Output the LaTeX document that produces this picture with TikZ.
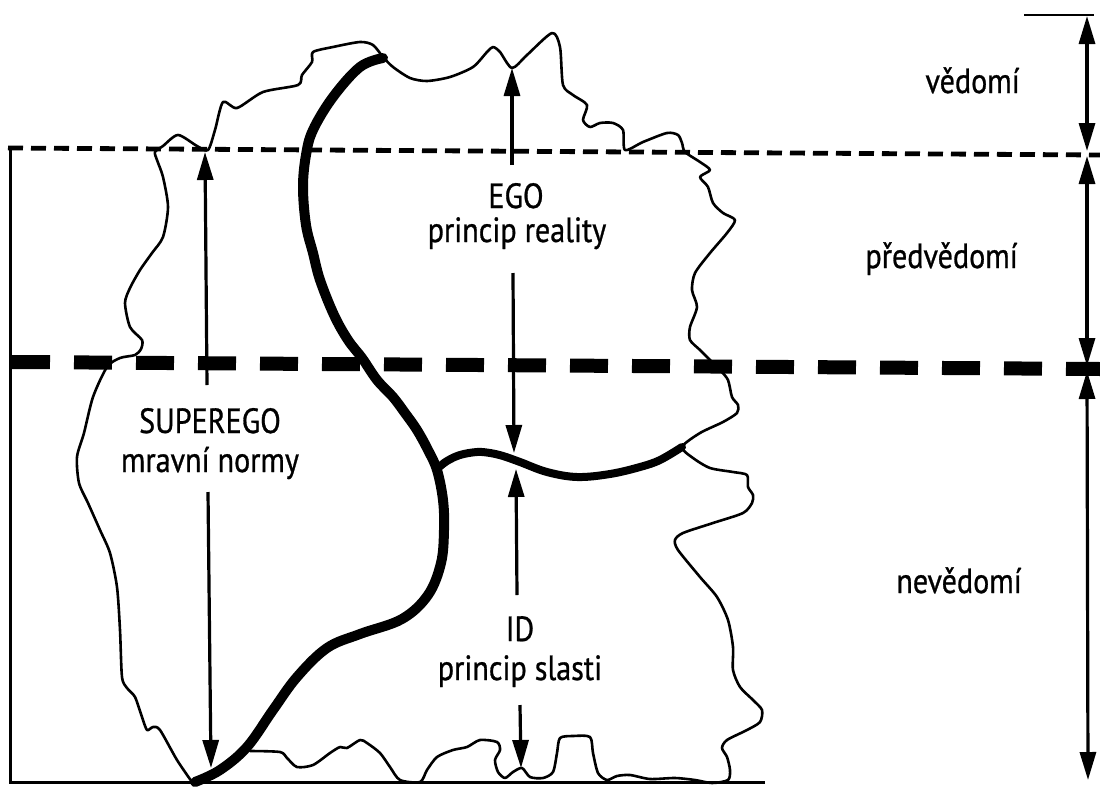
\documentclass[tikz,border=0pt]{standalone}
\usepackage{fontspec}
\setmainfont[FakeStretch=0.86,FakeBold=0.8]{PT Sans}
\usetikzlibrary{arrows.meta}
\begin{document}
\begin{tikzpicture}[x=1pt,y=-1pt,
  lbl/.style={font=\fontsize{35}{38}\selectfont, anchor=base, inner sep=0pt},
  rlbl/.style={lbl, anchor=base east},
  tip/.tip={Triangle[length=28pt,width=16pt]},
  arr/.style={line width=3.2pt, -tip},
  darr/.style={line width=3.2pt, tip-tip},
  contour/.style={line width=2.6pt, line join=round, line cap=round},
  divider/.style={line width=10pt, line cap=round},
  thinlevel/.style={line width=4.8pt, dash pattern=on 15pt off 8pt},
  thicklevel/.style={line width=14pt, dash pattern=on 38pt off 24pt},
  frame/.style={line width=3pt}
]
\useasboundingbox (0,0) rectangle (1100,787);

% level lines
\draw[thinlevel] (8,148) -- (1100,155);
\draw[thicklevel] (12,362) -- (1100,369);
\draw[frame] (10,147) -- (10,782) -- (765,782);

% outline of the psyche
\draw[contour] plot[smooth, tension=0.45] coordinates {
(192,782) (177,760) (160,730) (153,727) (147,730) (142,717) (135,697) (127,688)
(122,677) (120,630) (117,587) (110,553) (100,530) (88,503) (79,483) (77,457)
(84,433) (93,397) (107,367) (120,358) (135,355) (141,349) (142,340) (130,327)
(125,303) (130,288) (140,270) (152,253) (163,237) (168,207) (163,177) (157,160)
(155,152) (163,146) (178,135) (197,146) (208,150) (215,130) (223,102) (237,108)
(263,92) (298,85) (302,75) (312,62) (313,52) (333,47) (360,42) (373,45) (383,57)
(393,67) (410,78) (427,81) (450,77) (473,67) (487,52) (493,47) (500,52) (512,68)
(527,55) (552,33) (560,47) (563,85) (573,95) (587,105) (583,120) (590,127)
(600,123) (613,123) (623,130) (625,150) (643,142) (667,133) (678,135) (682,143)
(685,152) (700,162) (710,170) (700,177) (708,187) (713,203) (723,213) (735,220)
(727,233) (710,253) (695,273) (692,290) (697,307) (690,327) (690,340) (700,350)
(710,360) (720,370) (728,380) (732,397) (738,405) (737,413) (723,422) (700,433)
(682,447) (693,458) (710,468) (733,472) (747,475) (748,487) (753,495) (752,503)
(743,513) (713,523) (683,533) (675,540) (678,550) (700,577) (717,597) (728,620)
(733,647) (733,670) (740,687) (753,700) (762,710) (760,722) (747,730) (727,740)
(722,748) (727,757) (730,770) (728,780) (712,783) (695,780) (675,778) (650,779)
(630,775) (617,776) (607,780) (598,773) (593,753) (590,737) (573,736) (560,738)
(557,753) (553,772) (543,778) (530,777) (522,768) (513,772) (505,778) (498,772)
(495,760) (500,750) (497,742) (480,740) (467,747) (453,750) (437,757) (427,770)
(420,782) (400,780) (390,767) (380,753) (367,743) (360,740) (347,748) (340,747)
(330,753) (313,765) (297,767) (287,758) (280,752) (250,751)};

% superego / ego-id divider
\draw[divider] plot[smooth, tension=0.6] coordinates {
(383,58) (360,67) (333,97) (313,130) (306,155) (303,187) (306,225) (313,253)
(320,280) (334,315) (348,340) (362,358) (377,380) (393,397) (405,413) (417,430)
(428,450) (437,470) (443,500) (444,530) (441,563) (428,595) (402,619) (360,634)
(327,648) (297,677) (273,710) (247,747) (220,770) (195,782)};

% ego / id divider
\draw[line width=8pt, line cap=round] plot[smooth, tension=0.6] coordinates {
(438,468) (447,461) (460,455) (477,452) (490,453) (503,456) (520,462) (547,472)
(577,477) (610,474) (640,467) (660,460) (682,447)};

% labels
\node[lbl] (ego) at (516,208) {EGO};
\node[lbl] (egotext) at (517,242) {princip reality};
\node[lbl] (superego) at (210,433) {SUPEREGO};
\node[lbl] (superegotext) at (210,472) {mravní normy};
\node[lbl] (id) at (520,641) {ID};
\node[lbl] (idtext) at (520,680) {princip slasti};
\node[rlbl] (ved) at (1020,93) {vědomí};
\node[rlbl] (preved) at (1018,268) {předvědomí};
\node[rlbl] (neved) at (1022,593) {nevědomí};

% arrow end points
\coordinate (egoA) at (512,165);
\coordinate (egoAtip) at (512,68);
\coordinate (egoB) at (513,273);
\coordinate (egoBtip) at (514,453);
\coordinate (idA) at (517,595);
\coordinate (idAtip) at (516,469);
\coordinate (idB) at (520,705);
\coordinate (idBtip) at (521,768);
\coordinate (seA) at (207,385);
\coordinate (seAtip) at (205,152);
\coordinate (seB) at (208,492);
\coordinate (seBtip) at (211,768);

\draw[arr] (egoA) -- (egoAtip);
\draw[arr] (egoB) -- (egoBtip);
\draw[arr] (idA) -- (idAtip);
\draw[arr] (idB) -- (idBtip);
\draw[arr] (seA) -- (seAtip);
\draw[arr] (seB) -- (seBtip);

% right scale
\coordinate (tickL) at (1024,15);
\coordinate (tickR) at (1094,15);
\coordinate (s0) at (1087,16);
\coordinate (s1) at (1087,151);
\coordinate (s2) at (1087,156);
\coordinate (s3) at (1087,366);
\coordinate (s4) at (1087,371);
\coordinate (s5) at (1088,780);
\draw[line width=2.8pt] (tickL) -- (tickR);
\draw[darr] (s0) -- (s1);
\draw[darr] (s2) -- (s3);
\draw[darr] (s4) -- (s5);
\end{tikzpicture}
\end{document}
